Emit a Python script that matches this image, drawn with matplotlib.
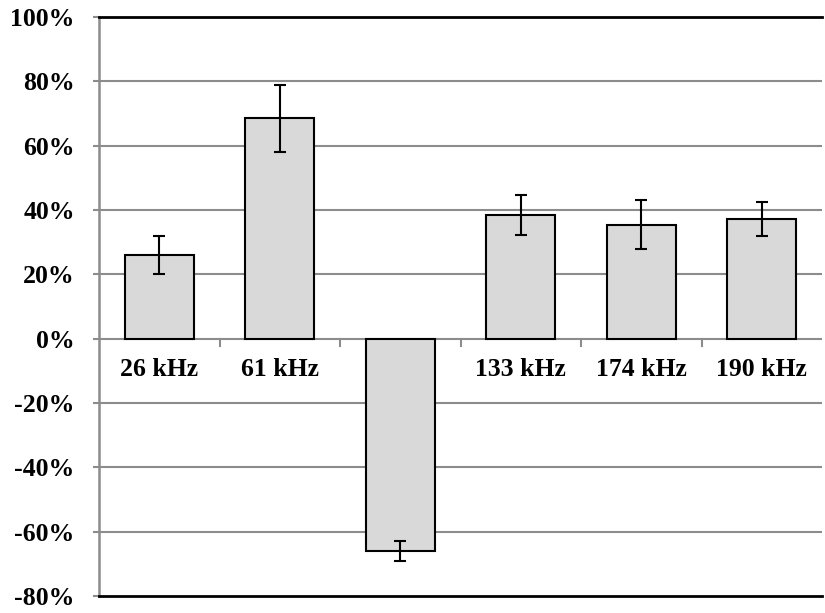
import matplotlib
matplotlib.use("Agg")
import matplotlib.pyplot as plt
import numpy as np

categories = ["26 kHz", "61 kHz", "", "133 kHz", "174 kHz", "190 kHz"]
values = [26.0, 68.5, -66.0, 38.5, 35.5, 37.3]
errors = [5.8, 10.5, 3.0, 6.2, 7.5, 5.3]
yticks = [-80, -60, -40, -20, 0, 20, 40, 60, 80, 100]

plt.rcParams['font.family'] = ['Liberation Serif', 'DejaVu Serif']
fig = plt.figure(figsize=(8.25, 6.13), dpi=100)
ax = fig.add_axes([0.12, 0.0277, 0.8764, 0.9445])

x = np.arange(len(categories))
ax.set_xlim(-0.5, len(categories) - 0.5)
ax.set_ylim(-80, 100)

for t in yticks:
    if t not in (-80, 100):
        ax.axhline(t, color='#8c8c8c', lw=1.5, zorder=1)

ax.bar(x, values, width=0.575, color='#d9d9d9', edgecolor='black', lw=1.5, zorder=3)
ax.errorbar(x, values, yerr=errors, fmt='none', ecolor='black', elinewidth=1.5,
            capsize=4.5, capthick=1.5, zorder=4)

# category boundary ticks on the zero line
for b in np.arange(0.5, len(categories) - 0.5, 1.0):
    ax.plot([b, b], [0, -2.2], color='#8c8c8c', lw=1.5, zorder=2, clip_on=False)

for xi, lab in zip(x, categories):
    ax.annotate(lab, xy=(xi, 0), xytext=(0, -22.5), textcoords='offset points',
                ha='center', va='center', fontsize=18.5, fontweight='bold')

ax.set_yticks(yticks)
ax.set_yticklabels([f"{t}%" for t in yticks], fontsize=18.5, fontweight='bold')
ax.tick_params(axis='y', length=4.5, width=1.5, color='#8c8c8c', pad=13)
ax.set_xticks([])

ax.spines['left'].set_color('#8c8c8c')
ax.spines['left'].set_linewidth(1.8)
ax.spines['right'].set_visible(False)
ax.spines['top'].set_color('black')
ax.spines['top'].set_linewidth(2)
ax.spines['bottom'].set_color('black')
ax.spines['bottom'].set_linewidth(2)

fig.savefig("out.png", dpi=100)
